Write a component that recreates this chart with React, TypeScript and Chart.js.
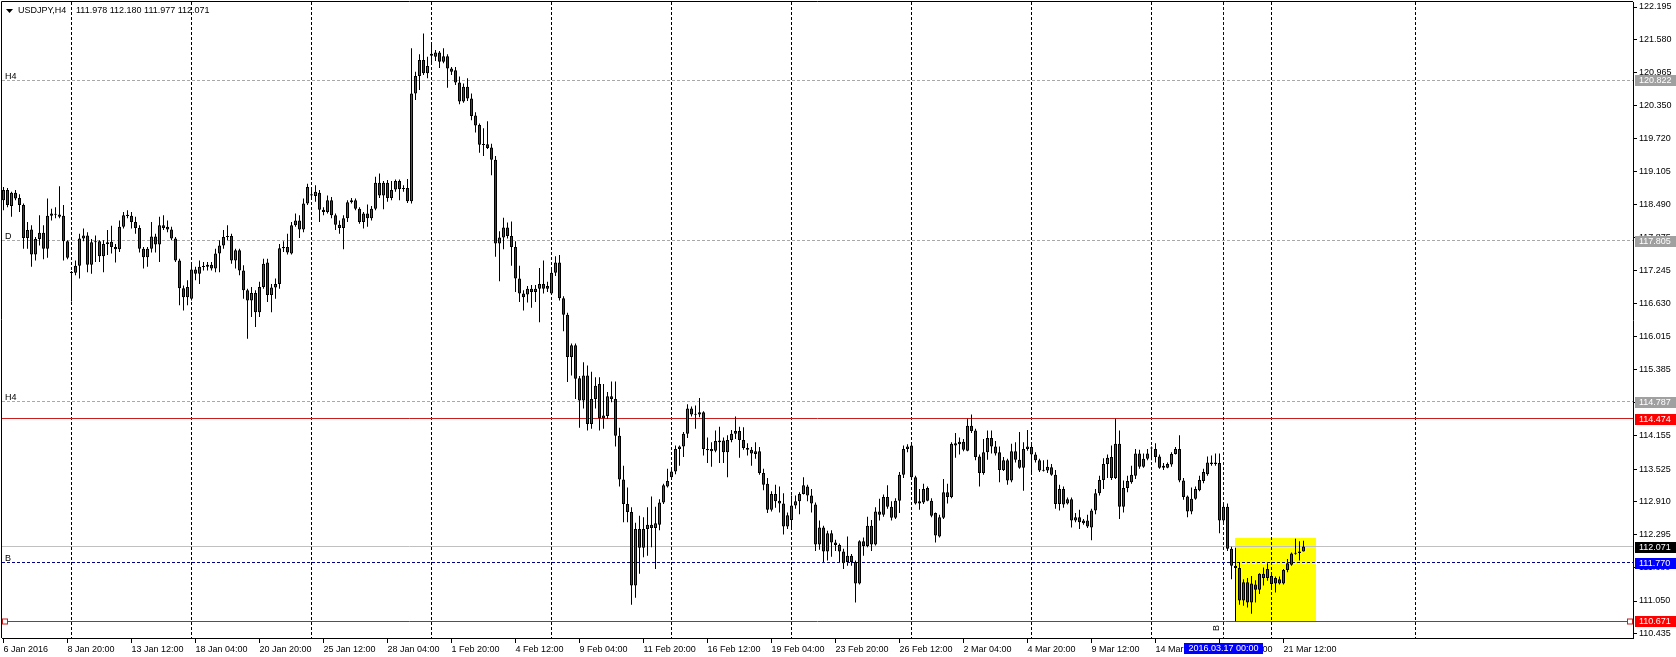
import React, { useEffect, useRef } from "react";
import { Chart, registerables } from "chart.js";

Chart.register(...registerables);

const symbolName = "USDJPY,H4";

const opens = [
  118.57, 118.76, 118.46, 118.71, 118.61, 118.48, 117.86, 118.02, 117.55, 117.84,
  117.96, 117.66, 118.28, 118.31, 118.30, 118.28, 117.80, 117.22, 117.21, 117.34,
  117.85, 117.91, 117.36, 117.78, 117.80, 117.52, 117.75, 117.79, 117.69, 117.65,
  118.07, 118.29, 118.28, 118.16, 118.05, 117.66, 117.50, 117.66, 117.89, 117.74,
  118.10, 118.07, 118.02, 117.85, 117.44, 116.92, 116.75, 116.72, 117.27, 117.19,
  117.32, 117.32, 117.36, 117.29, 117.57, 117.72, 117.88, 117.90, 117.44, 117.63,
  117.25, 116.88, 116.69, 116.83, 116.47, 116.94, 117.40, 116.79, 116.93, 117.00,
  117.67, 117.69, 117.57, 118.10, 118.19, 118.02, 118.51, 118.66, 118.65, 118.71,
  118.39, 118.35, 118.57, 118.29, 118.11, 118.05, 118.23, 118.53, 118.57, 118.41,
  118.16, 118.32, 118.23, 118.41, 118.90, 118.66, 118.90, 118.61, 118.77, 118.93,
  118.78, 118.80, 118.55, 120.57, 120.90, 121.20, 120.95, 121.28, 121.26, 121.34,
  121.17, 121.27, 121.04, 121.01, 120.78, 120.42, 120.70, 120.48, 120.16, 119.98,
  119.61, 119.62, 119.56, 119.33, 117.76, 117.87, 118.06, 117.90, 117.69, 117.10,
  116.82, 116.80, 116.91, 116.85, 116.91, 117.00, 116.91, 116.82, 117.21, 117.40,
  116.73, 116.42, 115.63, 115.85, 115.23, 114.81, 115.28, 114.37, 114.84, 115.12,
  114.48, 114.52, 114.89, 114.84, 114.15, 113.33, 112.87, 112.72, 111.34, 112.40,
  112.05, 112.40, 112.48, 112.42, 112.48, 112.90, 113.20, 113.37, 113.48, 113.90,
  113.95, 114.19, 114.66, 114.55, 114.55, 114.59, 113.90, 113.90, 113.87, 114.03,
  114.06, 113.84, 114.07, 114.19, 114.24, 114.07, 113.92, 113.89, 113.81, 113.86,
  113.45, 113.25, 112.76, 113.06, 112.93, 112.88, 112.45, 112.57, 112.84, 112.92,
  113.06, 113.20, 113.03, 112.86, 112.11, 112.43, 111.98, 112.32, 112.15, 112.10,
  111.98, 111.78, 111.90, 111.78, 111.38, 112.17, 112.08, 112.46, 112.11, 112.73,
  112.67, 113.00, 112.82, 112.61, 112.93, 113.42, 113.90, 113.97, 113.37, 112.92,
  112.90, 113.17, 112.93, 112.70, 112.26, 112.61, 113.09, 113.00, 113.97, 113.99,
  114.04, 113.87, 114.34, 114.25, 113.76, 113.45, 113.84, 114.11, 113.95, 113.84,
  113.51, 113.69, 113.31, 113.86, 113.70, 113.55, 113.90, 113.94, 113.80, 113.69,
  113.50, 113.50, 113.56, 113.42, 112.87, 113.15, 112.88, 112.96, 112.56, 112.62,
  112.56, 112.56, 112.43, 112.75, 113.07, 113.32, 113.62, 113.75, 113.36, 114.00,
  112.82, 113.17, 113.28, 113.40, 113.82, 113.57, 113.72, 113.91, 113.90, 113.76,
  113.59, 113.55, 113.61, 113.81, 113.90, 113.31, 113.01, 112.73, 112.97, 113.13,
  113.30, 113.43, 113.62, 113.62, 113.64, 112.56, 112.82, 112.03, 111.71, 111.67,
  111.06, 111.40, 111.02, 111.36, 111.26, 111.48, 111.48, 111.52, 111.48, 111.38,
  111.38, 111.63, 111.73, 111.94, 111.95, 111.978,
];

const highs = [
  118.82, 118.80, 118.73, 118.76, 118.68, 118.51, 118.16, 118.10, 117.88, 118.29,
  118.10, 118.60, 118.41, 118.44, 118.83, 118.48, 117.82, 117.24, 117.44, 117.94,
  118.04, 117.97, 117.84, 117.91, 117.82, 117.82, 118.01, 118.09, 117.75, 118.19,
  118.35, 118.38, 118.35, 118.26, 118.10, 117.69, 117.69, 118.16, 117.94, 118.26,
  118.29, 118.19, 118.07, 117.88, 117.47, 116.97, 117.07, 117.36, 117.32, 117.44,
  117.41, 117.41, 117.41, 117.66, 117.82, 118.01, 118.10, 117.94, 117.66, 117.66,
  117.35, 116.91, 116.94, 116.88, 117.04, 117.47, 117.47, 117.00, 117.10, 117.75,
  117.80, 117.94, 118.16, 118.32, 118.29, 118.60, 118.88, 118.78, 118.85, 118.76,
  118.44, 118.66, 118.63, 118.32, 118.19, 118.29, 118.57, 118.61, 118.60, 118.44,
  118.35, 118.49, 118.46, 119.01, 119.07, 118.93, 118.95, 118.93, 118.96, 118.96,
  118.85, 118.97, 121.42, 120.98, 121.31, 121.70, 121.26, 121.49, 121.39, 121.37,
  121.42, 121.31, 121.07, 121.07, 120.89, 120.76, 120.86, 120.57, 120.22, 120.01,
  119.92, 120.05, 119.63, 119.40, 117.99, 118.24, 118.15, 118.17, 117.80, 117.34,
  116.88, 116.96, 116.98, 116.98, 117.30, 117.44, 117.04, 117.26, 117.52, 117.54,
  116.77, 116.46, 115.88, 115.88, 115.27, 115.53, 115.47, 115.35, 115.25, 115.25,
  115.12, 114.97, 115.17, 115.17, 114.30, 113.59, 113.18, 112.81, 112.52, 112.65,
  112.62, 112.81, 113.01, 112.82, 112.96, 113.25, 113.53, 113.53, 113.97, 113.97,
  114.22, 114.74, 114.70, 114.72, 114.86, 114.61, 114.12, 114.03, 114.25, 114.32,
  114.12, 114.16, 114.26, 114.51, 114.32, 114.31, 114.01, 113.94, 114.03, 113.94,
  113.53, 113.36, 113.11, 113.23, 113.20, 113.07, 112.71, 113.03, 113.03, 113.09,
  113.37, 113.23, 113.15, 112.90, 112.56, 112.46, 112.37, 112.38, 112.20, 112.13,
  112.03, 112.26, 111.93, 111.81, 112.19, 112.24, 112.63, 112.57, 112.81, 112.97,
  113.05, 113.22, 112.92, 112.98, 113.47, 113.97, 113.99, 113.99, 113.40, 113.15,
  113.25, 113.20, 112.98, 112.71, 112.67, 113.34, 113.25, 114.03, 114.20, 114.12,
  114.09, 114.47, 114.55, 114.28, 113.80, 114.09, 114.25, 114.25, 114.05, 113.95,
  113.75, 113.72, 114.00, 114.03, 114.22, 114.03, 114.26, 114.00, 113.84, 113.72,
  113.69, 113.70, 113.62, 113.51, 113.23, 113.20, 112.99, 112.99, 112.70, 112.76,
  112.59, 112.67, 112.78, 113.15, 113.40, 113.73, 113.80, 113.97, 114.47, 114.25,
  113.31, 113.40, 113.59, 113.90, 113.89, 113.82, 113.90, 113.95, 114.01, 113.80,
  113.64, 113.65, 113.84, 113.94, 114.16, 113.36, 113.03, 113.18, 113.20, 113.40,
  113.53, 113.76, 113.78, 113.82, 113.82, 112.88, 112.88, 112.07, 112.05, 111.78,
  111.46, 111.48, 111.52, 111.44, 111.57, 111.68, 111.76, 111.56, 111.51, 111.51,
  111.65, 111.84, 111.96, 112.22, 112.17, 112.180,
];

const lows = [
  118.38, 118.44, 118.26, 118.57, 118.35, 117.66, 117.66, 117.32, 117.44, 117.72,
  117.46, 117.49, 118.19, 118.23, 118.23, 117.44, 117.46, 116.67, 117.16, 117.10,
  117.80, 117.22, 117.19, 117.41, 117.41, 117.22, 117.54, 117.57, 117.40, 117.60,
  118.04, 118.23, 118.04, 117.94, 117.59, 117.29, 117.32, 117.59, 117.59, 117.41,
  118.01, 117.97, 117.82, 117.41, 116.60, 116.50, 116.60, 116.69, 117.07, 117.00,
  117.25, 117.25, 117.25, 117.22, 117.22, 117.66, 117.82, 117.38, 117.29, 117.16,
  116.72, 115.97, 116.38, 116.19, 116.38, 116.91, 116.66, 116.47, 116.72, 116.91,
  117.60, 117.55, 117.55, 118.07, 117.86, 117.97, 118.48, 118.60, 118.54, 118.16,
  118.29, 118.32, 118.23, 118.01, 117.94, 117.65, 118.16, 118.51, 118.38, 118.13,
  118.04, 118.07, 118.19, 118.38, 118.61, 118.40, 118.54, 118.57, 118.73, 118.57,
  118.73, 118.52, 118.51, 120.45, 120.64, 120.92, 120.86, 121.11, 121.18, 121.05,
  121.14, 120.68, 120.92, 120.73, 120.37, 120.40, 120.43, 120.07, 119.84, 119.46,
  119.40, 119.53, 119.04, 117.51, 117.05, 117.65, 117.85, 117.34, 116.85, 116.66,
  116.50, 116.65, 116.55, 116.66, 116.28, 116.82, 116.85, 116.80, 117.15, 116.69,
  116.11, 115.16, 115.28, 114.84, 114.30, 114.66, 114.25, 114.28, 114.66, 114.25,
  114.28, 114.47, 114.78, 113.95, 113.20, 112.53, 112.53, 110.98, 111.11, 111.56,
  111.87, 111.90, 112.06, 111.65, 112.38, 112.87, 113.18, 113.36, 113.43, 113.59,
  113.75, 114.11, 114.51, 114.28, 114.50, 113.78, 113.64, 113.57, 113.84, 113.64,
  113.64, 113.37, 114.03, 114.09, 113.74, 113.89, 113.78, 113.59, 113.72, 113.42,
  113.13, 112.70, 112.73, 112.80, 112.71, 112.30, 112.40, 112.43, 112.78, 112.68,
  113.05, 112.92, 112.71, 111.99, 112.01, 111.78, 111.81, 111.88, 111.99, 111.78,
  111.65, 111.71, 111.71, 111.02, 111.36, 111.90, 112.06, 111.99, 112.09, 112.56,
  112.63, 112.78, 112.56, 112.59, 112.70, 113.36, 113.84, 113.32, 112.86, 112.76,
  112.87, 112.92, 112.62, 112.15, 112.24, 112.59, 112.88, 112.98, 113.74, 113.80,
  113.86, 113.86, 114.20, 113.69, 113.20, 113.42, 113.70, 113.82, 113.78, 113.28,
  113.49, 113.23, 113.28, 113.65, 113.53, 113.12, 113.87, 113.47, 113.65, 113.47,
  113.48, 113.45, 113.40, 112.78, 112.75, 112.80, 112.86, 112.43, 112.53, 112.40,
  112.48, 112.42, 112.19, 112.68, 113.03, 113.15, 113.36, 113.32, 113.34, 112.59,
  112.71, 113.09, 113.25, 113.34, 113.53, 113.55, 113.69, 113.69, 113.65, 113.53,
  113.51, 113.54, 113.57, 113.80, 113.28, 112.95, 112.62, 112.68, 112.95, 113.11,
  113.26, 113.40, 113.59, 113.59, 112.32, 112.53, 111.99, 111.46, 110.67, 110.98,
  110.96, 110.93, 110.81, 111.02, 111.18, 111.34, 111.43, 111.31, 111.21, 111.36,
  111.36, 111.59, 111.71, 111.92, 111.81, 111.977,
];

const closes = [
  118.76, 118.48, 118.71, 118.60, 118.48, 117.86, 118.01, 117.55, 117.84, 117.96,
  117.66, 118.28, 118.32, 118.30, 118.26, 117.80, 117.49, 117.21, 117.34, 117.85,
  117.91, 117.36, 117.78, 117.80, 117.52, 117.75, 117.78, 117.69, 117.65, 118.07,
  118.29, 118.28, 118.16, 118.05, 117.66, 117.50, 117.66, 117.89, 117.74, 118.10,
  118.05, 118.02, 117.85, 117.44, 116.92, 116.75, 116.94, 117.27, 117.19, 117.32,
  117.33, 117.36, 117.29, 117.57, 117.72, 117.88, 117.90, 117.44, 117.63, 117.25,
  116.88, 116.69, 116.83, 116.47, 116.94, 117.38, 116.79, 116.93, 117.00, 117.67,
  117.69, 117.59, 118.10, 118.19, 118.02, 118.51, 118.82, 118.68, 118.73, 118.39,
  118.35, 118.57, 118.29, 118.11, 118.05, 118.23, 118.53, 118.57, 118.41, 118.16,
  118.32, 118.23, 118.41, 118.90, 118.66, 118.90, 118.61, 118.76, 118.93, 118.78,
  118.80, 118.55, 120.57, 120.90, 121.20, 120.95, 121.09, 121.32, 121.34, 121.17,
  121.27, 121.04, 120.98, 120.78, 120.42, 120.70, 120.48, 120.15, 119.97, 119.61,
  119.62, 119.55, 119.33, 117.76, 117.87, 118.06, 117.90, 117.69, 117.10, 116.82,
  116.75, 116.91, 116.85, 116.91, 117.00, 116.91, 116.96, 117.21, 117.40, 116.73,
  116.42, 115.63, 115.85, 115.22, 114.81, 115.28, 114.37, 114.84, 115.09, 114.48,
  114.53, 114.89, 114.84, 114.15, 113.33, 112.87, 112.72, 111.34, 112.40, 112.05,
  112.40, 112.48, 112.42, 112.51, 112.90, 113.22, 113.30, 113.48, 113.90, 113.95,
  114.19, 114.66, 114.55, 114.56, 114.59, 113.90, 113.88, 113.86, 114.05, 114.06,
  113.84, 114.07, 114.19, 114.24, 114.07, 113.92, 113.89, 113.82, 113.86, 113.45,
  113.23, 112.76, 113.06, 112.92, 112.88, 112.45, 112.66, 112.84, 112.92, 113.06,
  113.22, 113.03, 112.88, 112.11, 112.43, 111.98, 112.32, 112.15, 112.10, 111.98,
  111.76, 111.90, 111.78, 111.38, 112.17, 112.08, 112.46, 112.11, 112.73, 112.67,
  113.00, 112.82, 112.61, 112.93, 113.42, 113.90, 113.95, 113.37, 112.88, 112.88,
  113.15, 112.93, 112.65, 112.28, 112.62, 113.09, 113.00, 114.00, 114.01, 114.04,
  113.89, 114.34, 114.24, 113.75, 113.45, 113.84, 114.11, 113.95, 113.82, 113.51,
  113.69, 113.31, 113.86, 113.70, 113.55, 113.90, 113.95, 113.80, 113.69, 113.50,
  113.51, 113.57, 113.42, 112.87, 113.15, 112.86, 112.96, 112.56, 112.62, 112.53,
  112.51, 112.45, 112.75, 113.07, 113.32, 113.62, 113.74, 113.36, 114.00, 112.82,
  113.17, 113.30, 113.42, 113.82, 113.57, 113.72, 113.82, 113.93, 113.75, 113.55,
  113.55, 113.62, 113.81, 113.90, 113.31, 113.00, 112.73, 112.97, 113.15, 113.32,
  113.47, 113.65, 113.65, 113.65, 112.56, 112.82, 112.03, 111.71, 111.67, 111.06,
  111.40, 111.02, 111.38, 111.26, 111.56, 111.56, 111.65, 111.37, 111.38, 111.46,
  111.63, 111.76, 111.94, 111.95, 111.98, 112.071,
];

const xTickBars = [0, 16, 32, 48, 64, 80, 96, 112, 128, 144, 160, 176, 192, 208, 224, 240, 256, 272, 288, 304, 320];
const xTickLabels = [
  "6 Jan 2016", "8 Jan 20:00", "13 Jan 12:00", "18 Jan 04:00", "20 Jan 20:00", "25 Jan 12:00",
  "28 Jan 04:00", "1 Feb 20:00", "4 Feb 12:00", "9 Feb 04:00", "11 Feb 20:00", "16 Feb 12:00",
  "19 Feb 04:00", "23 Feb 20:00", "26 Feb 12:00", "2 Mar 04:00", "4 Mar 20:00", "9 Mar 12:00",
  "14 Mar 04:00", "16 Mar 20:00", "21 Mar 12:00",
];
const yTickValues = [
  122.195, 121.58, 120.965, 120.35, 119.72, 119.105, 118.49, 117.875, 117.245, 116.63,
  116.015, 115.385, 114.77, 114.155, 113.525, 112.91, 112.295, 111.68, 111.05, 110.435,
];
const gridBars = [17, 47, 77, 107, 137, 167, 197, 227, 257, 287, 317, 353];
const grayLevels = [120.822, 117.805, 114.787];
const grayLevelNames = ["H4", "D", "H4"];
const redLevels = [114.474, 110.671];
const bidLevel = 112.071;
const blueLevel = 111.77;
const blueLevelName = "B";
const timeLineBar = 305;
const timeLineName = "B";
const timeLineLabel = "2016.03.17 00:00";
const boxBars = [308, 328];
const boxPrices = [110.671, 112.225];
const xRange = [-0.375, 407.375];
const yRange = [110.356, 122.289];

const FONT = "'Liberation Sans', Arial, sans-serif";
const BULL = "#2a6e34";
const BEAR = "#8e1f1f";

export default function App() {
  const ref = useRef<HTMLCanvasElement>(null);

  useEffect(() => {
    const canvas = ref.current;
    if (!canvas) return;
    Chart.defaults.font.family = FONT;
    Chart.defaults.font.size = 9;
    Chart.defaults.color = "#000";

    const idx = opens.map((_, i) => i);
    const wickData = idx.map((i) => ({ x: i, y: [lows[i], highs[i]] }));
    const bodyData = idx.map((i) => {
      let lo = Math.min(opens[i], closes[i]);
      let hi = Math.max(opens[i], closes[i]);
      if (hi - lo < 0.02) {
        const m = (hi + lo) / 2;
        lo = m - 0.01;
        hi = m + 0.01;
      }
      return { x: i, y: [lo, hi] };
    });
    const bodyColors = idx.map((i) => (closes[i] >= opens[i] ? BULL : BEAR));

    const overlay = {
      id: "mtOverlay",
      beforeDatasetsDraw(chart: any) {
        const { ctx, chartArea: a } = chart;
        const xs = chart.scales.x;
        const ys = chart.scales.y;
        ctx.save();
        ctx.beginPath();
        ctx.rect(a.left, a.top, a.right - a.left, a.bottom - a.top);
        ctx.clip();
        const bx1 = Math.floor(xs.getPixelForValue(boxBars[0]));
        const bx2 = Math.floor(xs.getPixelForValue(boxBars[1]));
        const by1 = Math.round(ys.getPixelForValue(boxPrices[1]));
        const by2 = Math.round(ys.getPixelForValue(boxPrices[0]));
        ctx.fillStyle = "#ffff00";
        ctx.fillRect(bx1, by1, bx2 - bx1 + 1, by2 - by1);
        ctx.lineWidth = 1;
        const hline = (p: number, color: string, dash: number[]) => {
          const yy = Math.floor(ys.getPixelForValue(p)) + 0.5;
          ctx.strokeStyle = color;
          ctx.setLineDash(dash);
          ctx.beginPath();
          ctx.moveTo(a.left, yy);
          ctx.lineTo(a.right, yy);
          ctx.stroke();
        };
        const vline = (b: number, color: string, dash: number[]) => {
          const xx = Math.floor(xs.getPixelForValue(b)) + 0.5;
          ctx.strokeStyle = color;
          ctx.setLineDash(dash);
          ctx.beginPath();
          ctx.moveTo(xx, a.top);
          ctx.lineTo(xx, a.bottom);
          ctx.stroke();
        };
        gridBars.forEach((b) => vline(b, "#000", [3, 2]));
        grayLevels.forEach((p) => hline(p, "#a8a8a8", [3, 2]));
        hline(bidLevel, "#c0c0c0", []);
        redLevels.forEach((p) => hline(p, "#c81e1e", []));
        hline(blueLevel, "#00008b", [3, 2]);
        vline(timeLineBar, "#00008b", [3, 2]);
        ctx.restore();
      },
      afterDraw(chart: any) {
        const { ctx, chartArea: a, width } = chart;
        const xs = chart.scales.x;
        const ys = chart.scales.y;
        ctx.save();
        ctx.setLineDash([]);
        ctx.lineWidth = 1;
        ctx.strokeStyle = "#000";
        ctx.beginPath();
        ctx.moveTo(a.left - 0.5, a.bottom);
        ctx.lineTo(a.left - 0.5, a.top - 0.5);
        ctx.lineTo(a.right, a.top - 0.5);
        ctx.stroke();

        // end squares of lower red line
        const ry = Math.floor(ys.getPixelForValue(redLevels[1])) + 0.5;
        ctx.fillStyle = "#fff";
        ctx.strokeStyle = "#c81e1e";
        [a.left + 3, a.right - 3].forEach((cx: number) => {
          ctx.fillRect(Math.floor(cx) - 2, ry - 2, 4, 4);
          ctx.strokeRect(Math.floor(cx) - 2.5, ry - 2.5, 5, 5);
        });

        ctx.font = `9px ${FONT}`;
        // right badges
        const badge = (p: number, bg: string, fg: string) => {
          const yy = Math.round(ys.getPixelForValue(p));
          ctx.fillStyle = bg;
          ctx.fillRect(a.right + 2, yy - 5, width - a.right - 2, 11);
          ctx.fillStyle = fg;
          ctx.textAlign = "left";
          ctx.textBaseline = "middle";
          ctx.fillText(p.toFixed(3), a.right + 6, yy + 0.5);
        };
        grayLevels.forEach((p) => badge(p, "#a0a0a0", "#ffffff"));
        redLevels.forEach((p) => badge(p, "#ff0000", "#ffffff"));
        badge(bidLevel, "#000000", "#ffffff");
        badge(blueLevel, "#0000ff", "#ffffff");

        // left level names
        ctx.fillStyle = "#000";
        ctx.textAlign = "left";
        ctx.textBaseline = "alphabetic";
        grayLevels.forEach((p, i) => {
          const yy = Math.floor(ys.getPixelForValue(p));
          ctx.fillText(grayLevelNames[i], a.left + 3, yy - 1);
        });
        ctx.fillText(blueLevelName, a.left + 3, Math.floor(ys.getPixelForValue(blueLevel)) - 1);

        // vertical line name
        const vx = Math.floor(xs.getPixelForValue(timeLineBar)) + 0.5;
        ctx.save();
        ctx.translate(vx - 2, a.bottom - 10);
        ctx.rotate(-Math.PI / 2);
        ctx.textAlign = "center";
        ctx.textBaseline = "bottom";
        ctx.fillText(timeLineName, 0, 0);
        ctx.restore();

        // time badge on x axis
        const tw = ctx.measureText(timeLineLabel).width;
        const bw = Math.round(tw + 9);
        ctx.fillStyle = "#0000ff";
        ctx.fillRect(Math.round(vx - bw / 2), a.bottom + 5, bw, 11);
        ctx.fillStyle = "#fff";
        ctx.textAlign = "center";
        ctx.textBaseline = "middle";
        ctx.fillText(timeLineLabel, vx, a.bottom + 11);

        // title
        ctx.fillStyle = "#000";
        ctx.beginPath();
        ctx.moveTo(6, 9);
        ctx.lineTo(13, 9);
        ctx.lineTo(9.5, 13);
        ctx.closePath();
        ctx.fill();
        const n = opens.length - 1;
        ctx.textAlign = "left";
        ctx.textBaseline = "middle";
        ctx.fillText(symbolName, 18, 11);
        const sx = 18 + ctx.measureText(symbolName).width + 8;
        ctx.fillText(
          `${opens[n].toFixed(3)} ${highs[n].toFixed(3)} ${lows[n].toFixed(3)} ${closes[n].toFixed(3)}`,
          Math.max(76, sx),
          11
        );
        ctx.restore();
      },
    };

    const chart = new Chart(canvas, {
      type: "bar",
      data: {
        datasets: [
          {
            label: "wick",
            data: wickData as any,
            backgroundColor: "#000",
            borderWidth: 0,
            barThickness: 1,
            grouped: false,
            order: 2,
            inflateAmount: 0,
          } as any,
          {
            label: "body",
            data: bodyData as any,
            backgroundColor: bodyColors,
            borderColor: "#000",
            borderWidth: 1,
            borderSkipped: false,
            barThickness: 3,
            grouped: false,
            order: 1,
            inflateAmount: 0,
          } as any,
        ],
      },
      options: {
        animation: false,
        responsive: false,
        maintainAspectRatio: false,
        devicePixelRatio: 1,
        events: [],
        layout: { padding: { left: 2, top: 2, right: 0, bottom: 0 } },
        plugins: { legend: { display: false }, tooltip: { enabled: false } },
        scales: {
          x: {
            type: "linear",
            position: "bottom",
            min: xRange[0],
            max: xRange[1],
            offset: false,
            grid: { display: true, drawOnChartArea: false, drawTicks: true, tickLength: 5, color: "#000", offset: false },
            border: { display: true, color: "#000" },
            ticks: {
              autoSkip: false,
              maxRotation: 0,
              minRotation: 0,
              align: "start",
              padding: 1,
              color: "#000",
              font: { family: FONT, size: 9 },
              callback: (_v: any, i: number) => xTickLabels[i] ?? "",
            },
            afterBuildTicks: (s: any) => {
              s.ticks = xTickBars.map((v) => ({ value: v }));
            },
            afterFit: (s: any) => {
              s.height = 19;
              s.paddingLeft = 0;
              s.paddingRight = 0;
            },
          } as any,
          y: {
            type: "linear",
            position: "right",
            min: yRange[0],
            max: yRange[1],
            beginAtZero: false,
            grid: { display: true, drawOnChartArea: false, drawTicks: true, tickLength: 4, color: "#000" },
            border: { display: true, color: "#000" },
            ticks: {
              autoSkip: false,
              padding: 2,
              color: "#000",
              font: { family: FONT, size: 9 },
              callback: (v: any) => Number(v).toFixed(3),
            },
            afterBuildTicks: (s: any) => {
              s.ticks = yTickValues.map((v) => ({ value: v }));
            },
            afterFit: (s: any) => {
              s.width = 43;
              s.paddingTop = 0;
              s.paddingBottom = 0;
            },
          } as any,
        },
      },
      plugins: [overlay],
    });

    return () => chart.destroy();
  }, []);

  return (
    <div style={{ position: "absolute", left: 0, top: 0, width: 1676, height: 657, background: "#fff" }}>
      <canvas ref={ref} width={1676} height={657} style={{ display: "block", width: 1676, height: 657 }} />
    </div>
  );
}
